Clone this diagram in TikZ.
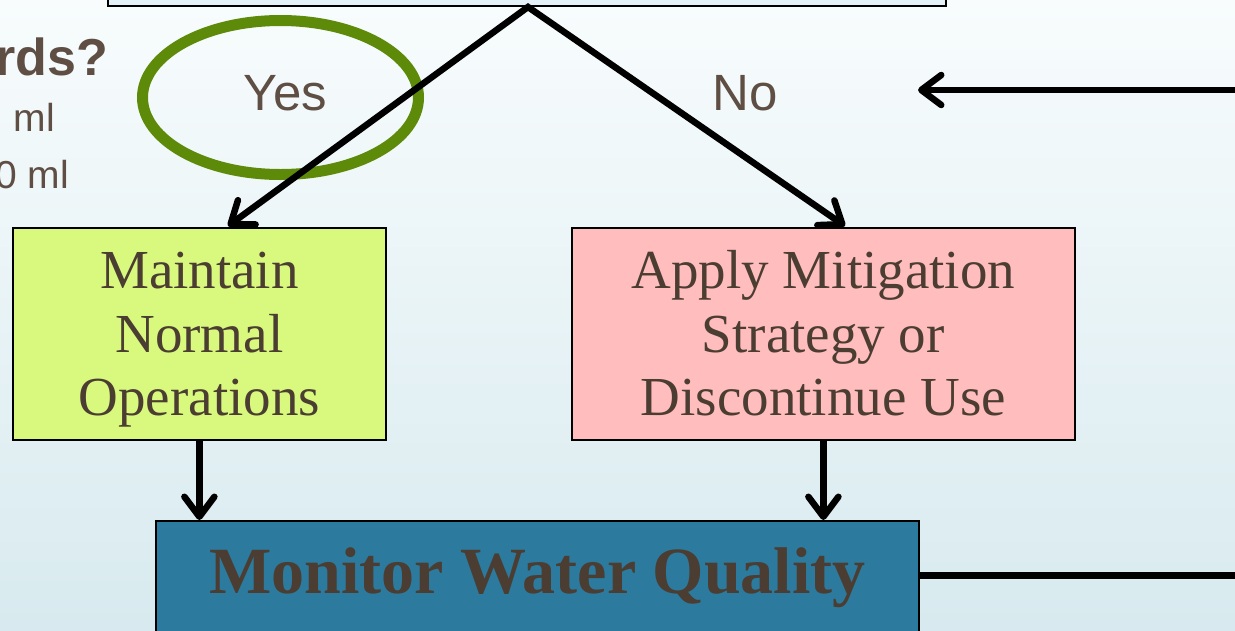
\documentclass[tikz,border=0pt]{standalone}
\usepackage{fontspec}
\setmainfont{Liberation Serif}
\newfontfamily\labelsans{Liberation Sans}
\usetikzlibrary{arrows.meta}

\definecolor{bgtop}{HTML}{F8FCFD}
\definecolor{bgbot}{HTML}{D8EAEF}
\definecolor{askfill}{HTML}{E4F1F8}
\definecolor{okgreen}{HTML}{D8F97E}
\definecolor{badpink}{HTML}{FFBDBD}
\definecolor{monblue}{HTML}{2C7A9E}
\definecolor{ringgreen}{HTML}{5E8A0A}
\definecolor{boxtext}{HTML}{4B3D32}
\definecolor{lbltext}{HTML}{5E4E43}

% struts that set the vertical placement of the three-line box texts
\newcommand{\firstlinestrut}{\rule{0pt}{52pt}}
\newcommand{\lastlinestrut}{\rule[-15pt]{0pt}{15pt}}

\tikzset{
  flowbox/.style={draw=black, line width=1.8pt, inner sep=0pt, text=boxtext, align=center},
  boxfont/.style={font=\fontsize{55}{63.5}\selectfont},
  lbl/.style={inner sep=0pt, text=lbltext},
  flowarrow/.style={line width=6.5pt, draw=black, -{Straight Barb[length=20pt,width=30pt,round]}},
}

\begin{document}
\begin{tikzpicture}[x=1pt,y=-1pt]
\useasboundingbox (0,0) rectangle (1235,630);
\clip (0,0) rectangle (1235,630);
\shade[top color=bgtop, bottom color=bgbot] (0,0) rectangle (1235,630);

% decision box (only its lower edge is in view)
\node[flowbox, fill=askfill, minimum width=838pt, minimum height=80pt, anchor=south west] (ask) at (107,7) {};

% partial question text on the left
\node[lbl, anchor=base east, font=\labelsans\bfseries\fontsize{52}{60}\selectfont] (crit) at (108,75) {rds?};
\node[lbl, anchor=base east, font=\labelsans\fontsize{39}{45}\selectfont] (limA) at (55,131) {ml};
\node[lbl, anchor=base east, font=\labelsans\fontsize{39}{45}\selectfont] (limB) at (69,188) {0 ml};

% answers
\node[lbl, anchor=base, font=\labelsans\fontsize{51}{60}\selectfont] (yes) at (285.5,110) {Yes};
\node[lbl, anchor=base, font=\labelsans\fontsize{51}{60}\selectfont] (no) at (745,110) {No};
\draw[line width=11pt, draw=ringgreen] (280.5,97.5) ellipse [x radius=138pt, y radius=77pt];

% outcome boxes
\node[flowbox, boxfont, fill=okgreen, minimum width=373pt, minimum height=212pt, anchor=north west] (keep) at (12,227)
  {\firstlinestrut Maintain\\Normal\\Operations\lastlinestrut};
\node[flowbox, boxfont, fill=badpink, minimum width=503pt, minimum height=212pt, anchor=north west] (fix) at (571,227)
  {\firstlinestrut Apply Mitigation\\Strategy or\\Discontinue Use\lastlinestrut};

% monitoring box
\node[flowbox, fill=monblue, minimum width=763pt, minimum height=120pt, anchor=north west,
      font=\fontsize{66}{72}\selectfont\bfseries, text height=44pt, text depth=18pt] (watch) at (155,520)
  {Monitor Water Quality};

% connectors
\coordinate (apex) at (528,7);
\coordinate (yesend) at (228,226);
\coordinate (noend) at (845,226);
\coordinate (loopin) at (1245,90);
\coordinate (looptip) at (918,90);
\coordinate (loopout) at (1245,575);

\draw[line width=6.5pt, line join=miter, {Straight Barb[length=20pt,width=30pt,round]}-{Straight Barb[length=20pt,width=30pt,round]}]
  (yesend) -- (apex) -- (noend);
\draw[flowarrow] (keep.south) -- (keep.south |- watch.north);
\draw[flowarrow] (fix.south) -- (fix.south |- watch.north);
\draw[line width=7pt] ([yshift=-55pt]watch.north east) -- (loopout);
\draw[flowarrow] (loopin) -- (looptip);
\end{tikzpicture}
\end{document}
